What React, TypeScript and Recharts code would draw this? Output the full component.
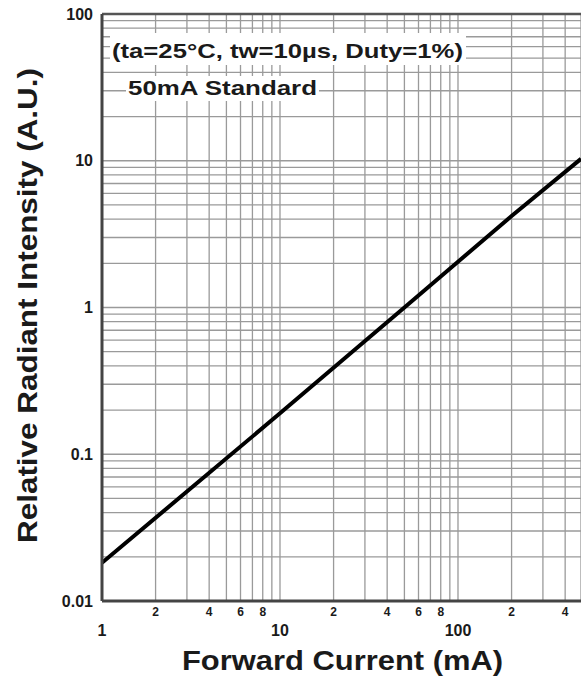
import { LineChart, Line, XAxis, YAxis, CartesianGrid, ReferenceLine } from 'recharts';

// forward current (mA) vs relative radiant intensity
const currentMa = [1, 10, 50, 100, 200, 491];
const intensity = [0.0182, 0.19, 1.0, 2.05, 4.2, 10.3];

const xGridTicks = [
    1, 2, 3, 4, 5, 6, 7, 8, 9,
    10, 20, 30, 40, 50, 60, 70, 80, 90,
    100, 200, 300, 400,
];
const xMajorLabels = [1, 10, 100];
const xMinorLabels = [2, 4, 6, 8];

const yGridTicks = [
    0.01, 0.02, 0.03, 0.04, 0.05, 0.06, 0.07, 0.08, 0.09,
    0.1, 0.2, 0.3, 0.4, 0.5, 0.6, 0.7, 0.8, 0.9,
    1, 2, 3, 4, 5, 6, 7, 8, 9,
    10, 20, 30, 40, 50, 60, 70, 80, 90,
    100,
];
const yLabels = ['0.01', '0.1', '1', '10', '100'];

const data = currentMa.map((c, i) => ({ current: c, value: intensity[i] }));

const FONT = '"Liberation Sans", Arial, Helvetica, sans-serif';
const INK = '#1a1a1a';

function XTick(props: any) {
    const { x, payload } = props;
    const v = payload.value as number;
    if (xMajorLabels.includes(v)) {
        return (
            <text x={x} y={636} textAnchor="middle" fontSize={16} fontWeight="bold" fontFamily={FONT} fill={INK}>
                {v}
            </text>
        );
    }
    const mant = Math.round(v / Math.pow(10, Math.floor(Math.log10(v) + 1e-9)));
    if (xMinorLabels.includes(mant)) {
        return (
            <text x={x} y={616} textAnchor="middle" fontSize={12} fontWeight="bold" fontFamily={FONT} fill={INK}>
                {mant}
            </text>
        );
    }
    return <g />;
}

function YTick(props: any) {
    const { y, payload } = props;
    const label = yLabels.find((l) => Math.abs(parseFloat(l) - payload.value) < 1e-9);
    if (!label) return <g />;
    return (
        <text x={93} y={y} dy="0.35em" textAnchor="end" fontSize={16} fontWeight="bold" fontFamily={FONT} fill={INK}>
            {label}
        </text>
    );
}

export default function App() {
    return (
        <div style={{ position: 'absolute', left: 0, top: 0, width: 581, height: 681, background: '#ffffff' }}>
            <LineChart width={581} height={681} data={data} margin={{ top: 14, right: 0, left: 0, bottom: 0 }}>
                <CartesianGrid stroke="#9a9a9a" strokeWidth={1.3} />
                <XAxis
                    dataKey="current"
                    type="number"
                    scale="log"
                    domain={[1, 491]}
                    ticks={xGridTicks}
                    allowDataOverflow
                    height={80}
                    tickLine={false}
                    axisLine={{ stroke: '#444', strokeWidth: 3 }}
                    tick={<XTick />}
                    interval={0}
                />
                <YAxis
                    type="number"
                    scale="log"
                    domain={[0.01, 100]}
                    ticks={yGridTicks}
                    allowDataOverflow
                    width={102}
                    tickLine={false}
                    axisLine={{ stroke: '#444', strokeWidth: 3 }}
                    tick={<YTick />}
                    interval={0}
                />
                <ReferenceLine y={100} stroke="#555" strokeWidth={2.5} />
                <Line
                    type="linear"
                    dataKey="value"
                    stroke="#000"
                    strokeWidth={4}
                    dot={false}
                    isAnimationActive={false}
                />
            </LineChart>
            <svg
                width={581}
                height={681}
                style={{ position: 'absolute', left: 0, top: 0, pointerEvents: 'none' }}
                fontFamily={FONT}
                fontWeight="bold"
                fill={INK}
            >
                <rect x={110} y={33} width={356} height={32} fill="#fff" />
                <text x={112} y={58} fontSize={21} textLength={351} lengthAdjust="spacingAndGlyphs">
                    (ta=25°C, tw=10µs, Duty=1%)
                </text>
                <rect x={126} y={76} width={193} height={25} fill="#fff" />
                <text x={128} y={95} fontSize={21} textLength={189} lengthAdjust="spacingAndGlyphs">
                    50mA Standard
                </text>
                <text x={182} y={670} fontSize={28} textLength={321} lengthAdjust="spacingAndGlyphs">
                    Forward Current (mA)
                </text>
                <text
                    transform="translate(37, 543) rotate(-90)"
                    x={0}
                    y={0}
                    fontSize={28}
                    textLength={475}
                    lengthAdjust="spacingAndGlyphs"
                >
                    Relative Radiant Intensity (A.U.)
                </text>
            </svg>
        </div>
    );
}
